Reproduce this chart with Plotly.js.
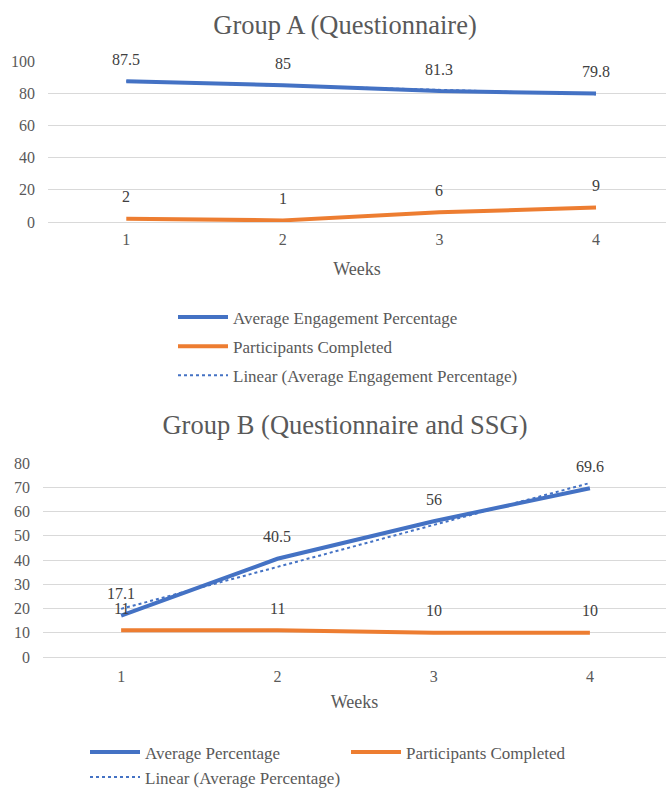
<!DOCTYPE html>
<html><head><meta charset="utf-8">
<script src="https://cdn.plot.ly/plotly-3.0.1.min.js"></script>
<style>
html,body{margin:0;padding:0;background:#fff;}
#a{position:absolute;left:0;top:0;width:666px;height:400px;}
#b{position:absolute;left:0;top:400px;width:666px;height:394px;}
</style>
</head><body>
<div id="a"></div><div id="b"></div>
<script>
// ---- data ----
const weeks = [1, 2, 3, 4];
const weekLabels = ['1', '2', '3', '4'];
const groupAEngagement = [87.5, 85, 81.3, 79.8];
const groupAParticipants = [2, 1, 6, 9];
const groupBAverage = [17.1, 40.5, 56, 69.6];
const groupBParticipants = [11, 11, 10, 10];
const groupAYTicks = [0, 20, 40, 60, 80, 100];
const groupBYTicks = [0, 10, 20, 30, 40, 50, 60, 70, 80];

// least-squares linear trendline (as the spreadsheet's "Linear" trendline)
function linearFit(x, y) {
  const n = x.length;
  const mx = x.reduce((a, b) => a + b, 0) / n;
  const my = y.reduce((a, b) => a + b, 0) / n;
  let sxy = 0, sxx = 0;
  for (let i = 0; i < n; i++) { sxy += (x[i] - mx) * (y[i] - my); sxx += (x[i] - mx) ** 2; }
  const m = sxy / sxx, c = my - m * mx;
  return x.map(v => m * v + c);
}

const FONT = 'Liberation Serif, Times New Roman, serif';
const GREY = '#595959';
const BLUE = '#4472C4';
const ORANGE = '#ED7D31';
const GRID = '#d9d9d9';

function labels(xs, ys, shift) {
  return ys.map((v, i) => ({
    x: xs[i], y: v, xref: 'x', yref: 'y', text: String(v), showarrow: false,
    yshift: shift, font: {family: FONT, size: 16, color: '#404040'}
  }));
}

function axes(range, ticks, xr, xStand, titleStand) {
  return {
    xaxis: {
      range: xr, tickvals: weeks, ticktext: weekLabels, showgrid: false, zeroline: false,
      showline: false, ticks: '', tickfont: {family: FONT, size: 16, color: GREY},
      ticklabelstandoff: xStand,
      title: {text: 'Weeks', font: {family: FONT, size: 18, color: GREY}, standoff: titleStand}
    },
    yaxis: {
      range: range, tickvals: ticks, gridcolor: GRID, gridwidth: 1, zeroline: true,
      zerolinecolor: GRID, zerolinewidth: 1, showline: false, ticks: '',
      tickfont: {family: FONT, size: 16, color: GREY}, ticklabelstandoff: 12
    }
  };
}

const legFont = {family: FONT, size: 17, color: GREY};

// ---- Group A ----
const tracesA = [
  {x: weeks, y: groupAEngagement, type: 'scatter', mode: 'lines', name: 'Average Engagement Percentage',
   line: {color: BLUE, width: 4}, legendgroup: 'a1'},
  {x: weeks, y: groupAParticipants, type: 'scatter', mode: 'lines', name: 'Participants Completed',
   line: {color: ORANGE, width: 4}, legendgroup: 'a2'},
  {x: weeks, y: linearFit(weeks, groupAEngagement), type: 'scatter', mode: 'lines',
   name: 'Linear (Average Engagement Percentage)', line: {color: BLUE, width: 2, dash: 'dot'}, legendgroup: 'a3'}
];
const layoutA = Object.assign({
  width: 666, height: 400, margin: {l: 48, r: 0, t: 61, b: 178},
  paper_bgcolor: '#fff', plot_bgcolor: '#fff',
  title: {text: 'Group A (Questionnaire)', font: {family: FONT, size: 26.5, color: GREY},
          xref: 'container', x: 345 / 666, xanchor: 'center', yref: 'container', y: 1 - 25 / 400, yanchor: 'middle'},
  showlegend: true,
  legend: {orientation: 'v', xref: 'paper', yref: 'paper', x: (173 - 48) / 618, xanchor: 'left',
           y: (222 - 299.5) / 161, yanchor: 'top', tracegroupgap: 4, itemwidth: 50,
           font: legFont, bgcolor: 'rgba(0,0,0,0)'},
  annotations: labels(weeks, groupAEngagement, 22).concat(labels(weeks, groupAParticipants, 22))
}, axes([0, 100], groupAYTicks, [0.5, 4.447], 6, 15));

// ---- Group B ----
const tracesB = [
  {x: weeks, y: groupBAverage, type: 'scatter', mode: 'lines', name: 'Average Percentage',
   line: {color: BLUE, width: 4}, legend: 'legend'},
  {x: weeks, y: groupBParticipants, type: 'scatter', mode: 'lines', name: 'Participants Completed',
   line: {color: ORANGE, width: 4}, legend: 'legend'},
  {x: weeks, y: linearFit(weeks, groupBAverage), type: 'scatter', mode: 'lines',
   name: 'Linear (Average Percentage)', line: {color: BLUE, width: 2, dash: 'dot'}, legend: 'legend2'}
];
const layoutB = Object.assign({
  width: 666, height: 394, margin: {l: 43, r: 0, t: 63, b: 137},
  paper_bgcolor: '#fff', plot_bgcolor: '#fff',
  title: {text: 'Group B (Questionnaire and SSG)', font: {family: FONT, size: 26.5, color: GREY},
          xref: 'container', x: 345 / 666, xanchor: 'center', yref: 'container', y: 1 - 25 / 394, yanchor: 'middle'},
  showlegend: true,
  legend: {orientation: 'h', xref: 'container', yref: 'container', x: 85 / 666, xanchor: 'left',
           y: 1 - 334.5 / 394, yanchor: 'top', entrywidth: 196, entrywidthmode: 'pixels', itemwidth: 50,
           font: legFont, bgcolor: 'rgba(0,0,0,0)'},
  legend2: {orientation: 'h', xref: 'container', yref: 'container', x: 85 / 666, xanchor: 'left',
           y: 1 - 359.5 / 394, yanchor: 'top', itemwidth: 50, font: legFont, bgcolor: 'rgba(0,0,0,0)'},
  annotations: labels(weeks, groupBAverage, 22).concat(labels(weeks, groupBParticipants, 22))
}, axes([0, 80], groupBYTicks, [0.5, 4.487], 8, 11));

// lengthen legend line samples to fill the wider symbol slot
function widenLegendLines(gd) {
  gd.querySelectorAll('.legendlines path').forEach(p => p.setAttribute('d', 'M5,0h50'));
  return gd;
}

const cfg = {displayModeBar: false, staticPlot: true};
Plotly.newPlot('a', tracesA, layoutA, cfg).then(widenLegendLines);
Plotly.newPlot('b', tracesB, layoutB, cfg).then(widenLegendLines);
</script>
</body></html>
